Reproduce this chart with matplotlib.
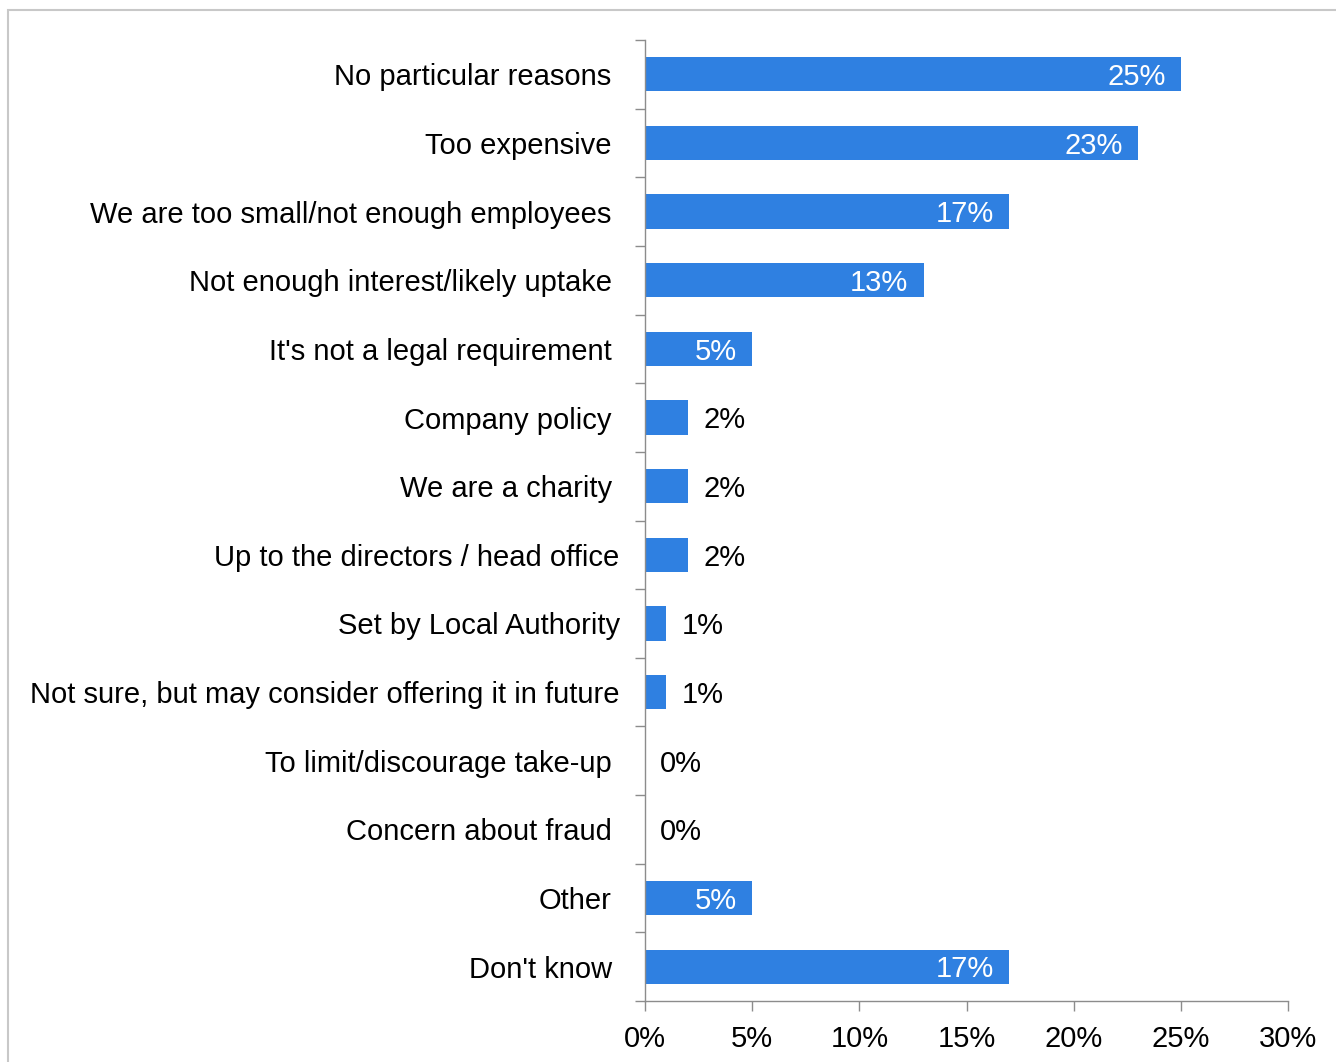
import numpy as np
import matplotlib.pyplot as plt
from matplotlib.patches import Rectangle
from matplotlib.ticker import FixedLocator, FuncFormatter
from matplotlib.transforms import ScaledTranslation

# reasons for not offering, share of respondents (%)
reasons = [
    "No particular reasons",
    "Too expensive",
    "We are too small/not enough employees",
    "Not enough interest/likely uptake",
    "It's not a legal requirement",
    "Company policy",
    "We are a charity",
    "Up to the directors / head office",
    "Set by Local Authority",
    "Not sure, but may consider offering it in future",
    "To limit/discourage take-up",
    "Concern about fraud",
    "Other",
    "Don't know",
]
shares = [25, 23, 17, 13, 5, 2, 2, 2, 1, 1, 0, 0, 5, 17]
xticks = [0, 5, 10, 15, 20, 25, 30]

plt.rcParams['font.family'] = ['Liberation Sans', 'DejaVu Sans']
bar_col = '#2f80e1'
axis_col = '#8c8c8c'
fs = 21

fig = plt.figure(figsize=(13.36, 10.62), dpi=100)
ax = fig.add_axes([645 / 1336, 1 - 1001 / 1062, 643 / 1336, 961 / 1062])

# light frame around the chart area
fig.patches.append(Rectangle((8 / 1336, -0.1), 1.2, 1 - 10 / 1062 + 0.1,
                             transform=fig.transFigure, fill=False,
                             edgecolor='#c8c8c8', linewidth=1.5))

y = np.arange(len(reasons))
ax.barh(y, shares, height=0.5, color=bar_col)
ax.set_ylim(len(reasons) - 0.5, -0.5)
ax.set_xlim(0, 30)

# value labels: inside the bar for the big ones, outside for the small ones
for yi, v in zip(y, shares):
    if v >= 5:
        ax.annotate(f"{v}%", (v, yi), xytext=(-11, -2), textcoords='offset points',
                    ha='right', va='center', color='white', fontsize=fs)
    else:
        ax.annotate(f"{v}%", (v, yi), xytext=(11, -2), textcoords='offset points',
                    ha='left', va='center', color='black', fontsize=fs)

ax.set_xticks(xticks)
ax.xaxis.set_major_formatter(FuncFormatter(lambda v, p: f"{v:.0f}%"))
ax.tick_params(axis='x', length=7, width=1, color=axis_col, labelsize=fs, pad=10)

# category names on the axis, tick marks between categories
ax.set_yticks(y)
ax.set_yticklabels(reasons, fontsize=fs)
ax.tick_params(axis='y', which='major', length=0, pad=24)
ax.yaxis.set_minor_locator(FixedLocator(np.arange(-0.5, len(reasons), 1)))
ax.tick_params(axis='y', which='minor', length=7, width=1, color=axis_col)

# the three longest-wrapped labels sit a little closer to the axis
for i in (7, 8, 9):
    lab = ax.get_yticklabels()[i]
    lab.set_transform(lab.get_transform() + ScaledTranslation(8 / 100, 0, fig.dpi_scale_trans))

for s in ['top', 'right']:
    ax.spines[s].set_visible(False)
for s in ['left', 'bottom']:
    ax.spines[s].set_color(axis_col)
    ax.spines[s].set_linewidth(1)

fig.savefig('out.png', dpi=100)
